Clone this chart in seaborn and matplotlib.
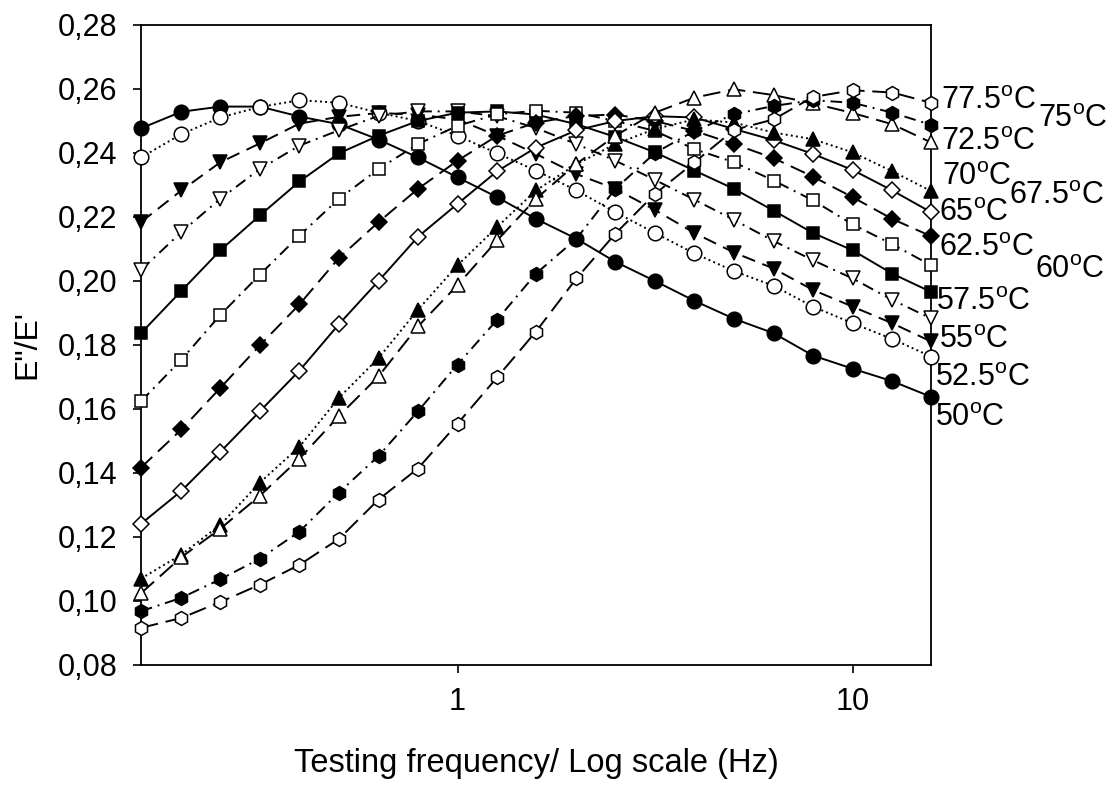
import matplotlib
matplotlib.use("Agg")
import matplotlib.pyplot as plt
import seaborn as sns
import pandas as pd

# ---------------- data ----------------
freq = [0.158, 0.2, 0.251, 0.316, 0.398, 0.501, 0.631, 0.794, 1.0, 1.26, 1.58,
        2.0, 2.51, 3.16, 3.98, 5.01, 6.31, 7.94, 10.0, 12.6, 15.8]

temps = ["50", "52.5", "55", "57.5", "60", "62.5", "65", "67.5", "70", "72.5", "75", "77.5"]

t50 = [0.2477, 0.2529, 0.2545, 0.2545, 0.2514, 0.2490, 0.2442, 0.2386, 0.2324, 0.2262, 0.2194,
       0.2132, 0.2060, 0.2000, 0.1938, 0.1882, 0.1837, 0.1767, 0.1726, 0.1687, 0.1638]
t52_5 = [0.2386, 0.2459, 0.2511, 0.2544, 0.2565, 0.2557, 0.2526, 0.2500, 0.2454, 0.2399, 0.2345,
         0.2283, 0.2215, 0.2150, 0.2086, 0.2031, 0.1985, 0.1920, 0.1868, 0.1819, 0.1764]
t55 = [0.2184, 0.2283, 0.2371, 0.2430, 0.2492, 0.2513, 0.2525, 0.2520, 0.2505, 0.2454, 0.2397,
       0.2334, 0.2288, 0.2222, 0.2150, 0.2089, 0.2039, 0.1972, 0.1920, 0.1868, 0.1811]
t57_5 = [0.2034, 0.2153, 0.2257, 0.2350, 0.2423, 0.2471, 0.2516, 0.2530, 0.2530, 0.2515, 0.2478,
         0.2428, 0.2376, 0.2316, 0.2254, 0.2191, 0.2125, 0.2065, 0.2008, 0.1941, 0.1883]
t60 = [0.1837, 0.1969, 0.2096, 0.2205, 0.2311, 0.2399, 0.2454, 0.2500, 0.2526, 0.2530, 0.2520,
       0.2490, 0.2450, 0.2402, 0.2345, 0.2288, 0.2220, 0.2150, 0.2096, 0.2023, 0.1966]
t62_5 = [0.1624, 0.1754, 0.1894, 0.2020, 0.2142, 0.2257, 0.2350, 0.2428, 0.2485, 0.2521, 0.2532,
         0.2526, 0.2500, 0.2469, 0.2412, 0.2371, 0.2314, 0.2252, 0.2177, 0.2115, 0.2049]
t65 = [0.1417, 0.1536, 0.1666, 0.1799, 0.1927, 0.2072, 0.2184, 0.2288, 0.2376, 0.2454, 0.2495,
       0.2516, 0.2520, 0.2500, 0.2469, 0.2428, 0.2384, 0.2326, 0.2262, 0.2194, 0.2140]
t67_5 = [0.1241, 0.1344, 0.1466, 0.1593, 0.1720, 0.1865, 0.2000, 0.2138, 0.2241, 0.2343, 0.2417,
         0.2471, 0.2500, 0.2515, 0.2511, 0.2475, 0.2440, 0.2397, 0.2347, 0.2283, 0.2215]
t70 = [0.1070, 0.1145, 0.1238, 0.1370, 0.1482, 0.1635, 0.1759, 0.1910, 0.2049, 0.2169, 0.2283,
       0.2365, 0.2428, 0.2475, 0.2505, 0.2495, 0.2464, 0.2443, 0.2402, 0.2343, 0.2281]
t72_5 = [0.1024, 0.1137, 0.1226, 0.1329, 0.1445, 0.1578, 0.1702, 0.1858, 0.1987, 0.2127, 0.2257,
         0.2366, 0.2454, 0.2526, 0.2573, 0.2599, 0.2581, 0.2555, 0.2525, 0.2490, 0.2433]
t75 = [0.0968, 0.1010, 0.1068, 0.1132, 0.1217, 0.1339, 0.1453, 0.1593, 0.1739, 0.1879, 0.2023,
       0.2132, 0.2288, 0.2400, 0.2469, 0.2521, 0.2547, 0.2565, 0.2557, 0.2526, 0.2488]
t77_5 = [0.0916, 0.0947, 0.0997, 0.1051, 0.1113, 0.1194, 0.1317, 0.1414, 0.1554, 0.1699, 0.1842,
         0.2008, 0.2148, 0.2272, 0.2371, 0.2472, 0.2505, 0.2575, 0.2596, 0.2589, 0.2557]

series = [t50, t52_5, t55, t57_5, t60, t62_5, t65, t67_5, t70, t72_5, t75, t77_5]

# right-hand labels: x in axes fraction, y baseline in data units
label_x = [1.005, 1.005, 1.010, 1.006, 1.132, 1.010, 1.010, 1.099, 1.014, 1.012, 1.135, 1.012]
label_y = [0.1547, 0.1671, 0.1790, 0.1910, 0.2008, 0.2078, 0.2189, 0.2241, 0.2300, 0.2410, 0.2480, 0.2537]

yticks = [0.08, 0.10, 0.12, 0.14, 0.16, 0.18, 0.20, 0.22, 0.24, 0.26, 0.28]
ytick_labels = ["0,08", "0,10", "0,12", "0,14", "0,16", "0,18", "0,20", "0,22", "0,24", "0,26", "0,28"]
xticks = [1, 10]
xtick_labels = ["1", "10"]

# ---------------- styles ----------------
markers = ["o", "o", "v", "v", "s", "s", "D", "D", "^", "^", "h", "h"]
filled = [True, False, True, False, True, False, True, False, True, False, True, False]
msizes = [10.5, 10.5, 10, 10, 8.5, 8.5, 8.5, 8.5, 10, 10, 10, 10]
lstyles = ["-", ":", (0, (7, 4)), (0, (6, 3, 1, 3)), "-", (0, (6, 3, 1, 3)),
           (0, (8, 4)), "-", ":", (0, (9, 4)), (0, (6, 3, 1, 3)), (0, (9, 4))]

sns.set_theme(style="white")
plt.rcParams["font.family"] = ["Liberation Sans", "DejaVu Sans"]
plt.rcParams["mathtext.fontset"] = "custom"
plt.rcParams["mathtext.rm"] = "Liberation Sans"
plt.rcParams["mathtext.it"] = "Liberation Sans:italic"

fig = plt.figure(figsize=(11.17, 7.91), dpi=100)
ax = fig.add_axes([0.1262, 0.1593, 0.7073, 0.8091])

rows = []
for t, vals in zip(temps, series):
    for f, v in zip(freq, vals):
        rows.append({"temp": t, "freq": f, "ratio": v})
df = pd.DataFrame(rows)

for i, t in enumerate(temps):
    sub = df[df["temp"] == t]
    sns.lineplot(data=sub, x="freq", y="ratio", ax=ax, color="black",
                 linewidth=1.4, linestyle=lstyles[i], marker=markers[i],
                 markersize=msizes[i],
                 markerfacecolor="black" if filled[i] else "white",
                 markeredgecolor="black", markeredgewidth=1.1,
                 zorder=3 + i, clip_on=False, legend=False)

ax.set_xscale("log")
ax.set_xlim(freq[0], freq[-1])
ax.set_ylim(0.08, 0.28)
ax.set_yticks(yticks)
ax.set_yticklabels(ytick_labels)
ax.set_xticks(xticks)
ax.set_xticklabels(xtick_labels)
ax.xaxis.set_minor_locator(matplotlib.ticker.NullLocator())
ax.tick_params(axis="both", which="major", direction="out", length=6, width=1.2,
               color="black", labelsize=22, labelcolor="black", bottom=True, left=True)
ax.tick_params(axis="y", pad=11)
ax.tick_params(axis="x", pad=10)

for sp in ax.spines.values():
    sp.set_visible(True)
    sp.set_color("black")
    sp.set_linewidth(1.3)

ax.set_xlabel("Testing frequency/ Log scale (Hz)", fontsize=23.5, labelpad=22, color="black")
ax.set_ylabel("E\"/E'", fontsize=23, labelpad=11, color="black")
ax.grid(False)

for t, lx, ly in zip(temps, label_x, label_y):
    ax.annotate(t + r"$^{\mathrm{o}}$C", xy=(lx, ly),
                xycoords=("axes fraction", "data"), fontsize=22,
                ha="left", va="baseline", annotation_clip=False, color="black")

fig.savefig("out.png", dpi=100, facecolor="white")
